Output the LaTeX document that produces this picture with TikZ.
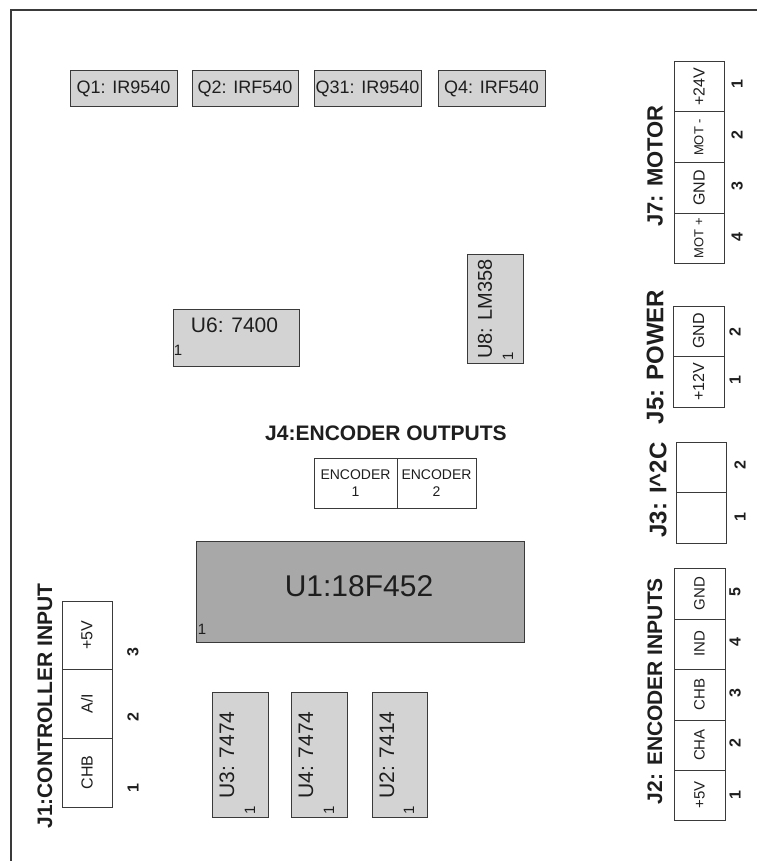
\documentclass[tikz,border=0pt]{standalone}
\usepackage{fontspec}
\setmainfont{Liberation Sans}
\newcommand\pxsize[1]{\fontsize{#1}{#1}\selectfont}
\definecolor{linec}{HTML}{3A3A3A}
\definecolor{chipl}{HTML}{D3D3D3}
\definecolor{chipd}{HTML}{A8A8A8}
\definecolor{txtc}{HTML}{1E1E1E}
\begin{document}
\begin{tikzpicture}[x=1pt,y=-1pt,
  box/.style={draw=linec, line width=1pt, rectangle, inner sep=0pt, outer sep=0pt},
  qbox/.style={box, fill=chipl, minimum height=36pt, text=txtc, font=\pxsize{18}},
  chipbox/.style={box, fill=chipl},
  cellbox/.style={box, fill=white},
  lbl/.style={inner sep=0pt, text=txtc},
  title/.style={inner sep=0pt, text=txtc, font=\bfseries\pxsize{#1}},
  pinnum/.style={inner sep=0pt, text=txtc, rotate=90, font=\bfseries\pxsize{16}},
  pinone/.style={inner sep=0pt, text=txtc, font=\pxsize{15}},
  enctext/.style={inner sep=0pt, text=txtc, align=center, font=\fontsize{14}{17}\selectfont}
]
\useasboundingbox (0,0) rectangle (757,861);
\fill[white] (0,0) rectangle (757,861);
% frame
\coordinate (fa) at (11,861);
\coordinate (fb) at (11,10);
\coordinate (fc) at (757,10);
\draw[linec, line width=1.2pt] (fa) -- (fb) -- (fc);

% transistors
\node[qbox, minimum width=107pt] (q1) at (123.5,89) {Q1: IR9540};
\node[qbox, minimum width=106pt] (q2) at (245,89) {Q2: IRF540};
\node[qbox, minimum width=107pt] (q31) at (367.5,89) {Q31: IR9540};
\node[qbox, minimum width=107pt] (q4) at (491.5,89) {Q4: IRF540};

% U6
\node[chipbox, minimum width=126pt, minimum height=57pt] (u6) at (236,337.5) {};
\node[lbl, font=\pxsize{21}] (u6t) at (234.5,325) {U6: 7400};
\node[pinone] (u6p) at (178,350) {1};

% U8
\node[chipbox, minimum width=56pt, minimum height=109pt] (u8) at (495,308.5) {};
\node[lbl, rotate=90, font=\pxsize{20}] (u8t) at (485,309) {U8: LM358};
\node[pinone, rotate=90] (u8p) at (508,356) {1};

% J4
\node[title=21] (j4t) at (386,433) {J4:ENCODER OUTPUTS};
\node[cellbox, minimum width=83pt, minimum height=50pt] (j4a) at (355.5,483) {};
\node[cellbox, minimum width=79pt, minimum height=50pt] (j4b) at (436.5,483) {};
\node[enctext] at (j4a) {ENCODER\\1};
\node[enctext] at (j4b) {ENCODER\\2};

% U1
\node[box, fill=chipd, minimum width=328pt, minimum height=101pt] (u1) at (360,591.5) {};
\node[lbl, font=\pxsize{30}] (u1t) at (359,586) {U1:18F452};
\node[pinone] (u1p) at (202,629) {1};

% U3, U4, U2
\node[chipbox, minimum width=56pt, minimum height=125pt] (u3) at (240,754.5) {};
\node[lbl, rotate=90, font=\pxsize{21}] (u3t) at (227,755) {U3: 7474};
\node[pinone, rotate=90] (u3p) at (250,810) {1};
\node[chipbox, minimum width=56pt, minimum height=125pt] (u4) at (319,754.5) {};
\node[lbl, rotate=90, font=\pxsize{21}] (u4t) at (306,755) {U4: 7474};
\node[pinone, rotate=90] (u4p) at (329,810) {1};
\node[chipbox, minimum width=55pt, minimum height=125pt] (u2) at (399.5,754.5) {};
\node[lbl, rotate=90, font=\pxsize{21}] (u2t) at (387,755) {U2: 7414};
\node[pinone, rotate=90] (u2p) at (409,810) {1};

% J7 MOTOR
\node[title=22, rotate=90] (j7t) at (655,166) {J7: MOTOR};
\node[cellbox, minimum width=50pt, minimum height=50pt] (j7a) at (699,87) {};
\node[cellbox, minimum width=50pt, minimum height=51pt] (j7b) at (699,137.5) {};
\node[cellbox, minimum width=50pt, minimum height=50pt] (j7c) at (699,188) {};
\node[cellbox, minimum width=50pt, minimum height=50pt] (j7d) at (699,238) {};
\node[lbl, rotate=90, font=\pxsize{16}] at (j7a) {+24V};
\node[lbl, rotate=90, font=\pxsize{13}] at (j7b) {MOT -};
\node[lbl, rotate=90, font=\pxsize{16}] at (j7c) {GND};
\node[lbl, rotate=90, font=\pxsize{13}] at (j7d) {MOT +};
\node[pinnum] at (737,84) {1};
\node[pinnum] at (737,135) {2};
\node[pinnum] at (737,186) {3};
\node[pinnum] at (737,237) {4};

% J5 POWER
\node[title=24, rotate=90] (j5t) at (655,357) {J5: POWER};
\node[cellbox, minimum width=51pt, minimum height=50pt] (j5b) at (698.5,331) {};
\node[cellbox, minimum width=51pt, minimum height=51pt] (j5a) at (698.5,381.5) {};
\node[lbl, rotate=90, font=\pxsize{16}] at (j5b) {GND};
\node[lbl, rotate=90, font=\pxsize{16}] at (j5a) {+12V};
\node[pinnum] at (735,332) {2};
\node[pinnum] at (735,380) {1};

% J3 I^2C
\node[title=24, rotate=90] (j3t) at (658,490) {J3: I\^{}2C};
\node[cellbox, minimum width=50pt, minimum height=50pt] (j3b) at (701,467) {};
\node[cellbox, minimum width=50pt, minimum height=51pt] (j3a) at (701,517.5) {};
\node[pinnum] at (740,465) {2};
\node[pinnum] at (740,517) {1};

% J2 ENCODER INPUTS
\node[title=21, rotate=90] (j2t) at (655,691) {J2: ENCODER INPUTS};
\node[cellbox, minimum width=51pt, minimum height=51pt] (j2e) at (699.5,593.5) {};
\node[cellbox, minimum width=51pt, minimum height=50pt] (j2d) at (699.5,644) {};
\node[cellbox, minimum width=51pt, minimum height=51pt] (j2c) at (699.5,694.5) {};
\node[cellbox, minimum width=51pt, minimum height=50pt] (j2b) at (699.5,745) {};
\node[cellbox, minimum width=51pt, minimum height=50pt] (j2a) at (699.5,795) {};
\node[lbl, rotate=90, font=\pxsize{15}] at (j2e) {GND};
\node[lbl, rotate=90, font=\pxsize{15}] at (j2d) {IND};
\node[lbl, rotate=90, font=\pxsize{15}] at (j2c) {CHB};
\node[lbl, rotate=90, font=\pxsize{15}] at (j2b) {CHA};
\node[lbl, rotate=90, font=\pxsize{15}] at (j2a) {+5V};
\node[pinnum] at (735,592) {5};
\node[pinnum] at (735,642) {4};
\node[pinnum] at (735,693) {3};
\node[pinnum] at (735,743) {2};
\node[pinnum] at (735,795) {1};

% J1 CONTROLLER INPUT
\node[title=21, rotate=90] (j1t) at (45,706) {J1:CONTROLLER INPUT};
\node[cellbox, minimum width=50pt, minimum height=68pt] (j1c) at (87,635) {};
\node[cellbox, minimum width=50pt, minimum height=69pt] (j1b) at (87,703.5) {};
\node[cellbox, minimum width=50pt, minimum height=69pt] (j1a) at (87,772.5) {};
\node[lbl, rotate=90, font=\pxsize{16}] at (j1c) {+5V};
\node[lbl, rotate=90, font=\pxsize{16}] at (j1b) {A/I};
\node[lbl, rotate=90, font=\pxsize{16}] at (j1a) {CHB};
\node[pinnum] at (133,652) {3};
\node[pinnum] at (133,717) {2};
\node[pinnum] at (133,788) {1};
\end{tikzpicture}
\end{document}
